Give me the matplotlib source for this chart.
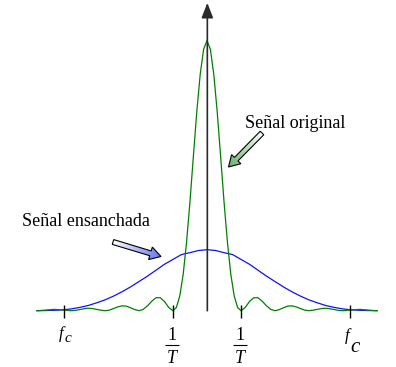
import numpy as np
import matplotlib
matplotlib.use('Agg')
import matplotlib.pyplot as plt
from matplotlib.patches import Polygon
from matplotlib.colors import LinearSegmentedColormap
from matplotlib.transforms import offset_copy

# frequency in units of 1/T, amplitude normalised to the original peak.
# only the right half is listed, both spectra are symmetric about f = 0
f_orig = [0.0, 0.1, 0.2, 0.3, 0.4, 0.5, 0.6, 0.7, 0.8, 0.9, 1.0,
          1.125, 1.25, 1.375, 1.5, 1.625, 1.75, 1.875, 2.0,
          2.125, 2.25, 2.375, 2.5, 2.625, 2.75, 2.875, 3.0,
          3.125, 3.25, 3.375, 3.5, 3.625, 3.75, 3.875, 4.0,
          4.25, 4.5, 4.75, 5.0]
s_orig = [1.0, 0.968, 0.875, 0.737, 0.573, 0.405, 0.255, 0.135, 0.055, 0.012, 0.0,
          0.012, 0.034, 0.048, 0.048, 0.035, 0.018, 0.005, 0.0,
          0.004, 0.011, 0.017, 0.018, 0.014, 0.008, 0.002, 0.0,
          0.002, 0.005, 0.008, 0.009, 0.007, 0.004, 0.001, 0.0,
          0.003, 0.005, 0.002, 0.0]

f_spread = [0.0, 0.25, 0.5, 0.75, 1.0, 1.25, 1.5, 1.75, 2.0, 2.25, 2.5,
            2.75, 3.0, 3.25, 3.5, 3.75, 4.0, 4.25, 4.5, 4.75, 5.0]
s_spread = [0.226, 0.223, 0.215, 0.208, 0.190, 0.172, 0.150, 0.128, 0.108,
            0.088, 0.070, 0.054, 0.040, 0.029, 0.019, 0.012, 0.0065, 0.003,
            0.0015, 0.0005, 0.0]

# tick positions
fc = 4.22
tick_pos = [-fc, -1.0, 1.0, fc]

serif = 'Liberation Serif'


def mirror(f, s):
    f = np.asarray(f)
    s = np.asarray(s)
    return np.concatenate([-f[::-1], f[1:]]), np.concatenate([s[::-1], s[1:]])


def block_arrow(ov, tail, tip, sw, hw, hl, color):
    tail = np.array(tail, float)
    tip = np.array(tip, float)
    d = tip - tail
    L = np.hypot(*d)
    u = d / L
    n = np.array([-u[1], u[0]])
    base = tip - u * hl
    pts = np.array([tail + n * sw / 2, base + n * sw / 2, base + n * hw / 2, tip,
                    base - n * hw / 2, base - n * sw / 2, tail - n * sw / 2])
    poly = Polygon(pts, closed=True, fc='none', ec='k', lw=0.8, zorder=4)
    ov.add_patch(poly)
    x0, y0 = pts.min(0)
    x1, y1 = pts.max(0)
    X, Y = np.meshgrid(np.linspace(x0, x1, 80), np.linspace(y0, y1, 80))
    t = ((X - tail[0]) * u[0] + (Y - tail[1]) * u[1]) / L
    cmap = LinearSegmentedColormap.from_list('grad', ['white', color])
    im = ov.imshow(t, cmap=cmap, vmin=0, vmax=1, extent=(x0, x1, y0, y1),
                   origin='lower', aspect='auto', interpolation='bilinear', zorder=3)
    im.set_clip_path(poly)


fig = plt.figure(figsize=(3.96, 3.67), dpi=100)
ax = fig.add_axes([0, 0, 1, 1])
ax.axis('off')
ax.set_xlim(-6.088, 5.559)
ax.set_ylim(-0.2085, 1.1507)

# frequency axis
ax.annotate('', xy=(5.64, 0), xytext=(-5.735, 0),
            arrowprops=dict(arrowstyle='-|>,head_length=0.7,head_width=0.3',
                            lw=1.2, color='#3a3a3a', shrinkA=0, shrinkB=0,
                            mutation_scale=10), zorder=1)

x, y = mirror(f_spread, s_spread)
ax.plot(x, y, color='#1010ff', lw=0.9, zorder=2)
x, y = mirror(f_orig, s_orig)
ax.plot(x, y, color='#008000', lw=0.9, zorder=2.5)

# vertical axis
ax.annotate('', xy=(0.01, 1.14), xytext=(0.01, 0),
            arrowprops=dict(arrowstyle='-|>,head_length=0.9,head_width=0.35',
                            lw=1.2, color='#2a2a2a', shrinkA=0, shrinkB=0,
                            mutation_scale=10), zorder=3)

# ticks
ax.vlines(tick_pos, -0.026, 0.022, color='k', lw=1.0, zorder=3)


# tick labels
def lab(xt, txt, dx, dy, size, style='italic'):
    ax.annotate(txt, xy=(xt, 0), xytext=(dx, dy), textcoords='offset pixels',
                ha='center', va='baseline', fontsize=size, family=serif,
                style=style)


lab(-fc, 'f', -2, -27, 12)
lab(-fc, 'c', 4, -31, 11)
lab(fc, 'f', -3, -29, 12)
lab(fc, 'c', 5, -41, 15)
for xt in [-1.0, 1.0]:
    lab(xt, '1', -1, -29, 13, style='normal')
    lab(xt, 'T', -1, -52, 13)
    ax.plot([xt], [0], marker='_', ms=9.5, mew=0.8, color='k',
            transform=offset_copy(ax.transData, fig=fig, x=-1, y=-34, units='dots'))

# annotations in pixel coordinates
ov = fig.add_axes([0, 0, 1, 1])
ov.axis('off')
ov.patch.set_visible(False)

ov.text(245, 128, 'Señal original', family=serif, fontsize=13, va='baseline', ha='left')
ov.text(22, 226.5, 'Señal ensanchada', family=serif, fontsize=13, va='baseline', ha='left')

block_arrow(ov, (262, 133), (228.5, 167), 5, 13, 11, '#6aae6a')
block_arrow(ov, (113, 242), (161, 256.5), 5, 13, 11, '#6676ee')

ov.set_xlim(0, 396)
ov.set_ylim(367, 0)

fig.savefig('out.png', dpi=100)
